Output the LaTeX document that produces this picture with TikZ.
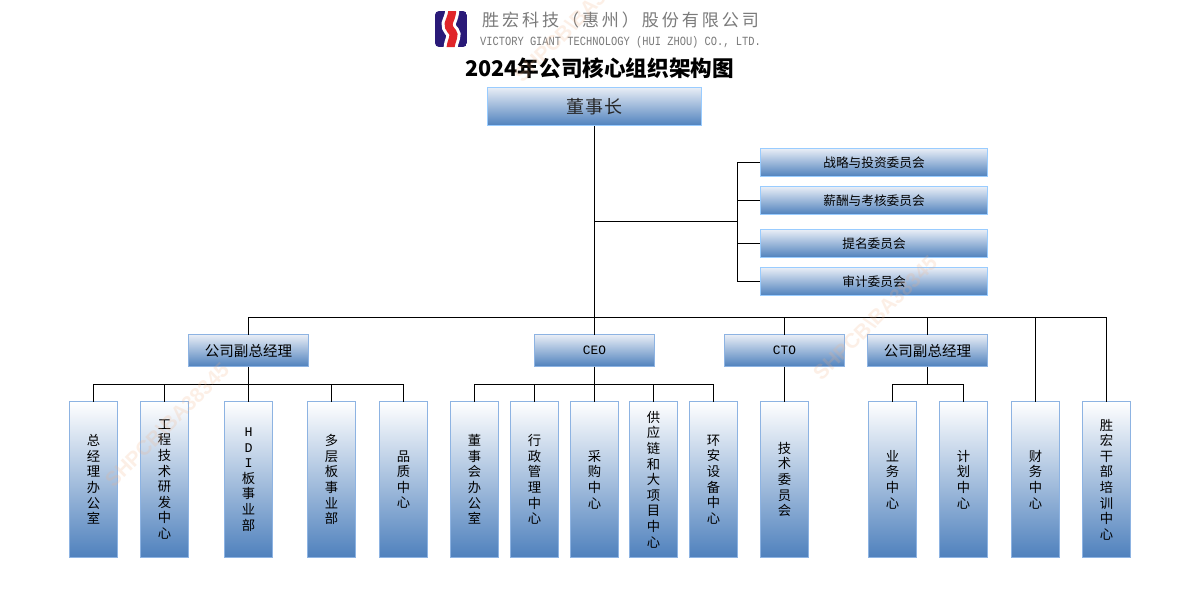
\documentclass[tikz,border=0pt]{standalone}
\usepackage{fontspec}
\setmainfont{Noto Sans CJK SC}
\newfontfamily\monof{Liberation Mono}
\newfontfamily\wmf{Liberation Sans}
\definecolor{bdr}{HTML}{8DB3E2}
\definecolor{bdrlight}{HTML}{99CCFF}
\definecolor{base}{HTML}{4F81BD}
\definecolor{toph}{HTML}{E9EEF6}
\definecolor{greytxt}{HTML}{7A7A7A}
\definecolor{navy}{HTML}{2A1A78}
\definecolor{logored}{HTML}{E0252A}
\definecolor{wm}{HTML}{F4B183}
\tikzset{
  x=0.75pt,y=-0.75pt,
  every node/.style={inner sep=0pt,outer sep=0pt,text=black},
  link/.style={draw=black,line width=0.75pt},
  vbox/.style={draw=bdr,line width=0.75pt,top color=white,bottom color=base,
    minimum width=36.2pt,minimum height=117pt,align=center,
    font=\fontsize{10}{11.7}\selectfont},
  narrow/.style={minimum width=35.5pt},
  midbox/.style={draw=bdr,line width=0.75pt,top color=toph,bottom color=base,
    minimum width=89.4pt,minimum height=24pt,font=\fontsize{10.9}{13}\selectfont},
  combox/.style={draw=bdrlight,line width=0.75pt,top color=toph,bottom color=base,
    minimum width=170.6pt,minimum height=21pt,font=\fontsize{9.5}{12}\selectfont},
  chairbox/.style={draw=bdrlight,line width=0.75pt,top color=toph,bottom color=base,
    minimum width=161.2pt,minimum height=29pt,text=black!85,
    font=\fontsize{13.5}{16}\selectfont\addfontfeature{LetterSpace=5}},
  watermark/.style={rotate=45,text=wm,text opacity=0.2,
    font=\wmf\bfseries\fontsize{15.5}{17}\selectfont}
}
\begin{document}
\begin{tikzpicture}
\useasboundingbox (0,0) rectangle (1191,607);
\clip (0,0) rectangle (1191,607);
\fill[white] (0,0) rectangle (1191,607);

% logo
\begin{scope}
  \clip[rounded corners=3pt] (435,11) rectangle (467,47);
  \fill[navy] (435,11) rectangle (467,47);
  \draw[white,line width=10.5pt] (452.5,8) .. controls (452,20) and (447,22) .. (449,27) .. controls (451,32) and (455,32) .. (453,38) .. controls (452,42) and (450.5,44) .. (450.5,50);
  \draw[logored,line width=6pt] (452.5,8) .. controls (452,20) and (447,22) .. (449,27) .. controls (451,32) and (455,32) .. (453,38) .. controls (452,42) and (450.5,44) .. (450.5,50);
\end{scope}
\node[text=greytxt,font=\fontsize{12.8}{15}\selectfont\addfontfeature{LetterSpace=17}] (company) at (620.5,20) {胜宏科技（惠州）股份有限公司};
\node[text=greytxt] (companyen) at (620.5,42) {\scalebox{1}[1.2]{\monof\fontsize{7.8}{9}\selectfont VICTORY GIANT TECHNOLOGY (HUI ZHOU) CO., LTD.}};
\node[font=\bfseries\fontsize{16.2}{20}\selectfont] (title) at (599.5,68) {2024年公司核心组织架构图};

% top
\node[chairbox] (chair) at (594.5,106.5) {董事长};
\node[combox] (c1) at (874,162.5) {战略与投资委员会};
\node[combox] (c2) at (874,200.5) {薪酬与考核委员会};
\node[combox] (c3) at (874,243.5) {提名委员会};
\node[combox] (c4) at (874,281.5) {审计委员会};

% middle
\node[midbox] (vp1) at (248.5,350.5) {公司副总经理};
\node[midbox] (ceo) at (594.5,350.5) {\monof\fontsize{9.6}{12}\selectfont CEO};
\node[midbox] (cto) at (784.5,350.5) {\monof\fontsize{9.6}{12}\selectfont CTO};
\node[midbox] (vp2) at (927.5,350.5) {公司副总经理};

% bottom
\node[vbox] (b1) at (93.5,479.5) {总\\经\\理\\办\\公\\室};
\node[vbox] (b2) at (164.5,479.5) {工\\程\\技\\术\\研\\发\\中\\心};
\node[vbox] (b3) at (248.5,479.5) {{\monof H}\\{\monof D}\\{\monof I}\\板\\事\\业\\部};
\node[vbox] (b4) at (331.5,479.5) {多\\层\\板\\事\\业\\部};
\node[vbox] (b5) at (403.5,479.5) {品\\质\\中\\心};
\node[vbox] (b6) at (474.5,479.5) {董\\事\\会\\办\\公\\室};
\node[vbox] (b7) at (534.5,479.5) {行\\政\\管\\理\\中\\心};
\node[vbox,narrow] (b8) at (594.5,479.5) {采\\购\\中\\心};
\node[vbox] (b9) at (653.5,479.5) {供\\应\\链\\和\\大\\项\\目\\中\\心};
\node[vbox] (b10) at (713.5,479.5) {环\\安\\设\\备\\中\\心};
\node[vbox] (b11) at (784.5,479.5) {技\\术\\委\\员\\会};
\node[vbox,narrow] (b12) at (892.5,479.5) {业\\务\\中\\心};
\node[vbox] (b13) at (963.5,479.5) {计\\划\\中\\心};
\node[vbox] (b14) at (1035.5,479.5) {财\\务\\中\\心};
\node[vbox] (b15) at (1106.5,479.5) {胜\\宏\\干\\部\\培\\训\\中\\心};

% junctions
\coordinate (busTop) at (594.5,317.5);
\coordinate (cJ) at (737.5,221.5);
\coordinate (busA) at (248.5,384.5);
\coordinate (busB) at (594.5,384.5);
\coordinate (busC) at (927.5,384.5);

% connectors
\draw[link] (chair.south) -- (ceo.north);
\draw[link] (chair.south |- cJ) -- (cJ);
\draw[link] (cJ) |- (c1.west);
\draw[link] (cJ) |- (c2.west);
\draw[link] (cJ) |- (c3.west);
\draw[link] (cJ) |- (c4.west);
\draw[link] (vp1.north) |- (busTop) -| (b15.north);
\draw[link] (cto.north) -- (cto.north |- busTop);
\draw[link] (vp2.north) -- (vp2.north |- busTop);
\draw[link] (b14.north) -- (b14.north |- busTop);
\draw[link] (vp1.south) -- (busA);
\draw[link] (b1.north) |- (busA) -| (b5.north);
\draw[link] (b2.north) -- (b2.north |- busA);
\draw[link] (b3.north) -- (b3.north |- busA);
\draw[link] (b4.north) -- (b4.north |- busA);
\draw[link] (ceo.south) -- (b8.north);
\draw[link] (b6.north) |- (busB) -| (b10.north);
\draw[link] (b7.north) -- (b7.north |- busB);
\draw[link] (b9.north) -- (b9.north |- busB);
\draw[link] (cto.south) -- (b11.north);
\draw[link] (vp2.south) -- (busC);
\draw[link] (b12.north) |- (busC) -| (b13.north);

% watermarks
\node[watermark] (wm1) at (167,425) {SHPCB\textbackslash BA38345};
\node[watermark] (wm2) at (875,318) {SHPCB\textbackslash BA38345};
\node[watermark] (wm3) at (576,20) {SHPCB\textbackslash BA38345};
\end{tikzpicture}
\end{document}
